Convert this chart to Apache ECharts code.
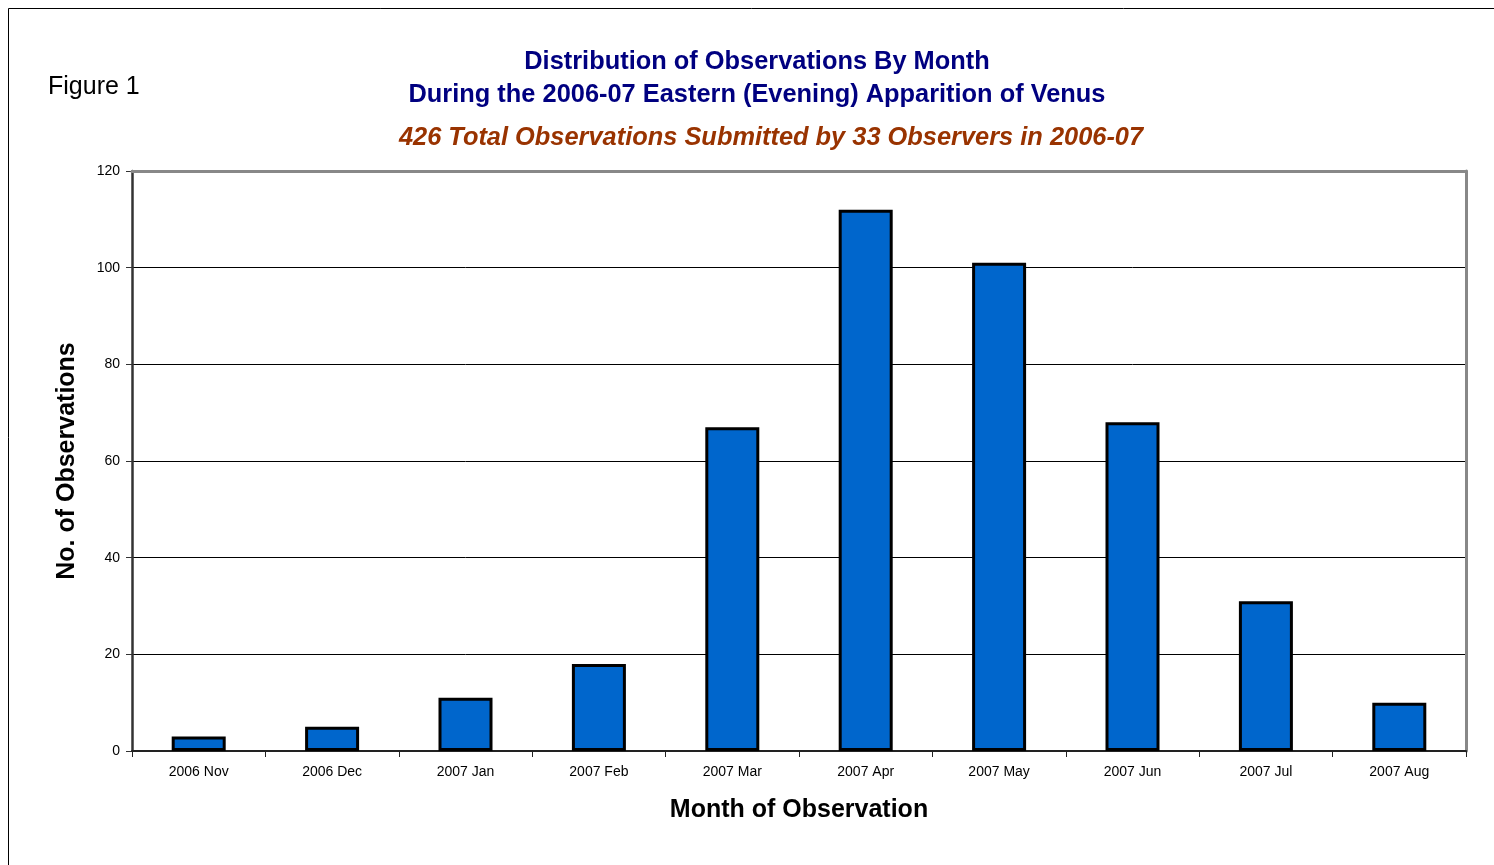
<!DOCTYPE html>
<html>
<head>
<meta charset="utf-8">
<title>Distribution of Observations By Month</title>
<script src="https://cdn.jsdelivr.net/npm/echarts@6/dist/echarts.min.js"></script>
<style>
  html, body { margin: 0; padding: 0; background: #ffffff; }
  #chart { width: 1494px; height: 865px; }
</style>
</head>
<body>
<div id="chart"></div>
<script>
// Monthly observation counts, 2006-07 evening apparition of Venus
const months = ['2006 Nov', '2006 Dec', '2007 Jan', '2007 Feb', '2007 Mar',
                '2007 Apr', '2007 May', '2007 Jun', '2007 Jul', '2007 Aug'];
const observations = [3, 5, 11, 18, 67, 112, 101, 68, 31, 10];
const yTicks = [0, 20, 40, 60, 80, 100, 120];

const titleLines = [
  'Distribution of Observations By Month',
  'During the 2006-07 Eastern (Evening) Apparition of Venus'
];
const subtitleText = '426 Total Observations Submitted by 33 Observers in 2006-07';

const font = '"Liberation Sans", Arial, sans-serif';
const chart = echarts.init(document.getElementById('chart'), null, { renderer: 'canvas' });

const yMin = yTicks[0];
const yMax = yTicks[yTicks.length - 1];

chart.setOption({
  backgroundColor: '#ffffff',
  animation: false,
  graphic: [
    {
      type: 'rect',
      shape: { x: 8.5, y: 8.5, width: 1500, height: 880 },
      style: { fill: 'none', stroke: '#000000', lineWidth: 1 },
      silent: true
    },
    {
      type: 'text',
      x: 48, y: 87,
      style: { text: 'Figure 1', font: '25px ' + font, fill: '#000000', verticalAlign: 'middle' }
    },
    {
      type: 'text',
      x: 757, y: 62,
      style: {
        text: titleLines[0], font: 'bold 25.4px ' + font, fill: '#000080',
        align: 'center', verticalAlign: 'middle'
      }
    },
    {
      type: 'text',
      x: 757, y: 95,
      style: {
        text: titleLines[1], font: 'bold 25.4px ' + font, fill: '#000080',
        align: 'center', verticalAlign: 'middle'
      }
    },
    {
      type: 'text',
      x: 771, y: 138,
      style: {
        text: subtitleText, font: 'italic bold 25.4px ' + font, fill: '#993300',
        align: 'center', verticalAlign: 'middle'
      }
    }
  ],
  grid: {
    left: 132, top: 171, right: 28, bottom: 114,
    show: true,
    borderWidth: 0,
    backgroundColor: '#ffffff'
  },
  xAxis: [{
    type: 'category',
    data: months,
    boundaryGap: true,
    position: 'bottom',
    name: 'Month of Observation',
    nameLocation: 'middle',
    nameGap: 47,
    nameTextStyle: { fontFamily: font, fontSize: 25, fontWeight: 'bold', color: '#000000' },
    axisLine: { onZero: false, lineStyle: { color: '#222222', width: 2 } },
    axisTick: { show: true, alignWithLabel: false, length: 6, lineStyle: { color: '#222222', width: 1 } },
    axisLabel: { fontFamily: font, fontSize: 14, color: '#000000', margin: 14, interval: 0 },
    splitLine: { show: false },
    z: 12
  }, {
    // upper frame edge of the plot area
    type: 'category',
    data: months,
    position: 'top',
    axisLine: { show: true, onZero: false, lineStyle: { color: '#888888', width: 3 } },
    axisTick: { show: false },
    axisLabel: { show: false },
    splitLine: { show: false },
    z: 10
  }],
  yAxis: [{
    type: 'value',
    min: yMin,
    max: yMax,
    interval: yTicks[1] - yTicks[0],
    position: 'left',
    name: 'No. of Observations',
    nameLocation: 'middle',
    nameGap: 52,
    nameRotate: 90,
    nameTextStyle: { fontFamily: font, fontSize: 25, fontWeight: 'bold', color: '#000000' },
    axisLine: { show: true, onZero: false, lineStyle: { color: '#333333', width: 2.5 } },
    axisTick: { show: true, length: 6, lineStyle: { color: '#333333', width: 1 } },
    axisLabel: { fontFamily: font, fontSize: 14, color: '#000000', margin: 12 },
    splitLine: { show: true, lineStyle: { color: '#000000', width: 1 } },
    z: 5
  }, {
    // right frame edge of the plot area
    type: 'value',
    min: yMin,
    max: yMax,
    interval: yTicks[1] - yTicks[0],
    position: 'right',
    axisLine: { show: true, onZero: false, lineStyle: { color: '#888888', width: 3 } },
    axisTick: { show: false },
    axisLabel: { show: false },
    splitLine: { show: false },
    z: 10
  }],
  series: [{
    type: 'bar',
    data: observations,
    xAxisIndex: 0,
    yAxisIndex: 0,
    barWidth: 54,
    itemStyle: { color: '#0066CC', borderColor: '#000000', borderWidth: 3 },
    z: 20
  }]
});
</script>
</body>
</html>
